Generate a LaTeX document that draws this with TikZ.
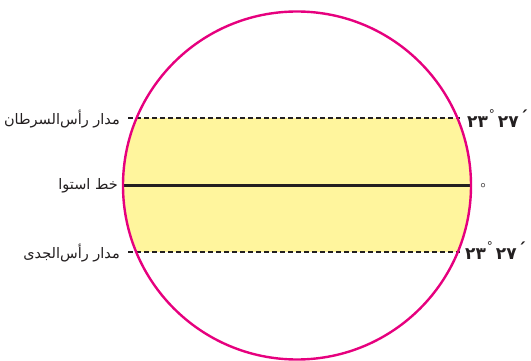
\documentclass[tikz,border=0pt]{standalone}
\usepackage{fontspec}
\TeXXeTstate=1
\newfontfamily\arabicfont[Script=Arabic]{DejaVu Sans}
\definecolor{rimc}{HTML}{E6007E}
\definecolor{bandc}{HTML}{FFF59D}
\definecolor{inkc}{HTML}{231F20}
\tikzset{
  rim/.style={draw=rimc,line width=2.4pt},
  band/.style={fill=bandc},
  tropic/.style={draw=inkc,line width=1.8pt,dash pattern=on 4.5pt off 3.5pt},
  equator/.style={draw=inkc,line width=2.2pt},
  lbl/.style={inner sep=0pt,text=inkc,font=\arabicfont\fontsize{14.5}{17}\selectfont},
  deg/.style={inner sep=0pt,text=inkc,font=\arabicfont\bfseries\fontsize{17}{19}\selectfont}
}
\newcommand{\degtext}{٢٣\kern1pt\raisebox{9pt}{\fontsize{12}{12}\mdseries\selectfont °}\kern3pt ٢٧\kern1pt\raisebox{4pt}{´}}
\begin{document}
\begin{tikzpicture}[x=1pt,y=-1pt]
\useasboundingbox (0,0) rectangle (531,361);
\coordinate (c) at (297,185.5);
\begin{scope}
  \clip (c) circle (174pt);
  \fill[band] (0,118) rectangle (531,252);
\end{scope}
\coordinate (tl) at (128,118);
\coordinate (tr) at (460,118);
\coordinate (bl) at (128,252);
\coordinate (br) at (460,252);
\coordinate (el) at (123,185.5);
\coordinate (er) at (472,185.5);
\draw[tropic] (tl) -- (tr);
\draw[tropic] (bl) -- (br);
\draw[equator] (el) -- (er);
\draw[rim] (c) circle (174pt);
\node[lbl,anchor=east] (cancer) at (120,119) {\beginR مدار رأس‌السرطان\endR};
\node[lbl,anchor=east] (eqlbl) at (118,186) {\beginR خط استوا\endR};
\node[lbl,anchor=east] (capri) at (120,253) {\beginR مدار رأس‌الجدی\endR};
\node[deg,anchor=west] (dtop) at (467,119) {\degtext};
\node[deg,anchor=west] (dbot) at (465,251) {\degtext};
\node[inner sep=0pt,text=inkc,font=\fontsize{16}{16}\selectfont] (zero) at (483,189) {°};
\end{tikzpicture}
\end{document}
